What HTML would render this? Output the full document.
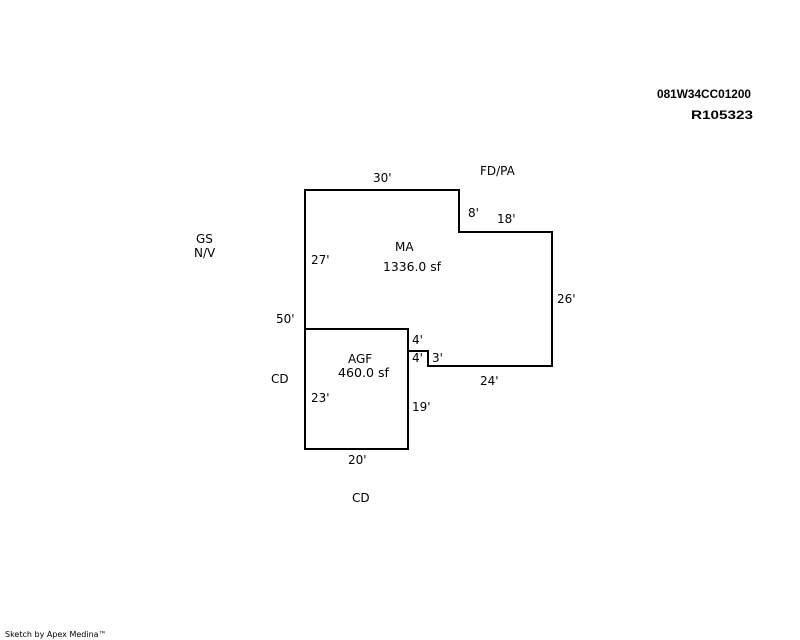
<!DOCTYPE html>
<html><head><style>body{margin:0;background:#fff}svg{display:block}</style></head>
<body>
<svg width="800" height="640" xmlns="http://www.w3.org/2000/svg" font-family="DejaVu Sans, Verdana, sans-serif" font-size="12" fill="#000">
<g fill="none" stroke="#000" stroke-width="2">
<path d="M305,190 H459 V232 H552 V366 H428 V351 H408 V449 H305 Z"/>
<path d="M305,329 H408 V351"/>
</g>
<text x="657" y="98" font-weight="bold" font-size="12" font-family="Liberation Sans, sans-serif" textLength="94" lengthAdjust="spacingAndGlyphs">081W34CC01200</text>
<text x="691" y="119" font-weight="bold" font-size="12" font-family="Liberation Sans, sans-serif" textLength="62" lengthAdjust="spacingAndGlyphs">R105323</text>
<text x="480" y="175">FD/PA</text>
<text x="373" y="182">30'</text>
<text x="468" y="217">8'</text>
<text x="497" y="223">18'</text>
<text x="196" y="243">GS</text>
<text x="194" y="257">N/V</text>
<text x="395" y="251">MA</text>
<text x="383" y="271" textLength="58" lengthAdjust="spacingAndGlyphs">1336.0 sf</text>
<text x="311" y="264">27'</text>
<text x="557" y="303">26'</text>
<text x="276" y="323">50'</text>
<text x="412" y="344">4'</text>
<text x="412" y="362">4'</text>
<text x="432" y="362">3'</text>
<text x="348" y="363">AGF</text>
<text x="338" y="377" textLength="51" lengthAdjust="spacingAndGlyphs">460.0 sf</text>
<text x="271" y="383">CD</text>
<text x="480" y="385">24'</text>
<text x="311" y="402">23'</text>
<text x="412" y="411">19'</text>
<text x="348" y="464">20'</text>
<text x="352" y="502">CD</text>
<text x="5" y="637" font-size="8">Sketch by Apex Medina™</text>
</svg>
</body></html>
